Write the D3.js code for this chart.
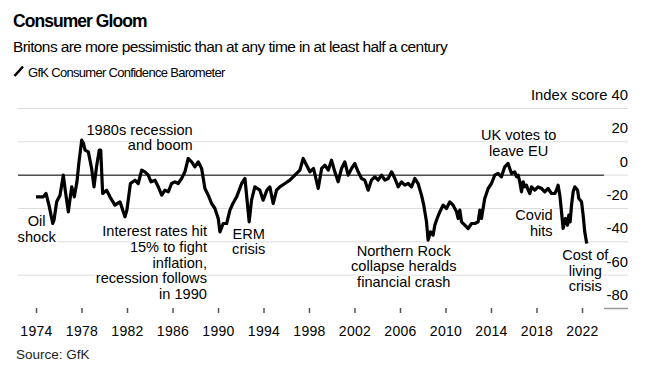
<!DOCTYPE html>
<html>
<head>
<meta charset="utf-8">
<script src="https://cdn.jsdelivr.net/npm/d3@7"></script>
<style>
  body { margin: 0; background: #fff; }
  svg text { font-family: "Liberation Sans", Arial, sans-serif; fill: #000; }
</style>
</head>
<body>
<div id="chart"></div>
<script>
// GfK index (decimal year, index score)
var dates = [1974.00, 1974.35, 1974.64, 1974.88, 1975.14, 1975.47, 1975.58, 1975.82, 1976.11, 1976.40,
  1976.55, 1976.84, 1977.14, 1977.37, 1977.60, 1977.78, 1978.02, 1978.18, 1978.31, 1978.60,
  1978.89, 1979.10, 1979.32, 1979.56, 1979.69, 1979.86, 1980.21, 1980.50, 1980.94, 1981.38,
  1981.82, 1981.99, 1982.30, 1982.70, 1982.99, 1983.29, 1983.58, 1983.87, 1984.11, 1984.46,
  1984.75, 1985.05, 1985.34, 1985.63, 1985.92, 1986.21, 1986.50, 1986.80, 1987.09, 1987.38,
  1987.68, 1987.97, 1988.26, 1988.56, 1988.85, 1989.14, 1989.44, 1989.73, 1990.02, 1990.17,
  1990.46, 1990.76, 1991.05, 1991.31, 1991.64, 1992.08, 1992.37, 1992.74, 1992.95, 1993.24,
  1993.68, 1993.97, 1994.30, 1994.56, 1994.85, 1995.15, 1995.44, 1995.88, 1996.32, 1996.76,
  1997.20, 1997.49, 1997.79, 1998.08, 1998.40, 1998.81, 1999.11, 1999.40, 1999.69, 1999.98,
  2000.27, 2000.56, 2000.86, 2001.15, 2001.44, 2001.74, 2002.03, 2002.32, 2002.62, 2002.91,
  2003.20, 2003.49, 2003.79, 2004.08, 2004.38, 2004.67, 2004.96, 2005.26, 2005.55, 2005.84,
  2006.13, 2006.43, 2006.72, 2007.01, 2007.30, 2007.59, 2007.89, 2008.09, 2008.33, 2008.47,
  2008.68, 2008.91, 2009.06, 2009.26, 2009.50, 2009.79, 2010.09, 2010.38, 2010.67, 2010.97,
  2011.11, 2011.26, 2011.41, 2011.70, 2011.99, 2012.29, 2012.58, 2012.87, 2013.02, 2013.16,
  2013.45, 2013.75, 2014.04, 2014.33, 2014.62, 2014.92, 2015.21, 2015.50, 2015.80, 2016.09,
  2016.24, 2016.39, 2016.53, 2016.68, 2016.83, 2016.97, 2017.12, 2017.27, 2017.41, 2017.56,
  2017.85, 2018.14, 2018.44, 2018.73, 2019.02, 2019.32, 2019.61, 2019.75, 2019.90, 2020.05,
  2020.20, 2020.34, 2020.55, 2020.73, 2020.84, 2020.96, 2021.08, 2021.22, 2021.37, 2021.61,
  2021.72, 2021.96, 2022.10, 2022.24, 2022.39, 2022.45];
var scores = [-13, -13, -13, -11, -18, -29, -27, -16, -12, 0,
  -8, -22, -7, -13, -4, 8, 21, 19, 15, 14,
  4, -7, 5, 15, 15, -11, -9, -13, -18, -16,
  -25, -21, -5, -3, -5, 3, 2, 0, -4, -3,
  -7, -12, -9, -10, -5, -4, -5, -2, 2, 10,
  8, 5, 8, 4, -8, -12, -17, -20, -26, -34,
  -29, -29, -21, -17, -13, -5, -2, -28, -15, -7,
  -9, -15, -9, -7, -17, -9, -7, -5, -3, 0,
  3, 10, 6, 2, 4, -8, 4, 6, 3, 9,
  2, -4, 4, 8, 0, 4, 7, 2, -2, -3,
  -9, -3, -1, -3, 0, -3, -2, 2, -2, -7,
  -4, -6, -5, -7, -2, -5, -12, -18, -28, -39,
  -34, -36, -30, -26, -22, -18, -20, -16, -18, -22,
  -26, -21, -28, -30, -32, -29, -29, -28, -21, -26,
  -14, -8, -5, 0, 1, -1, 5, 7, 1, 2,
  -1, 0, -4, -10, -4, -7, -6, -9, -11, -7,
  -9, -7, -8, -10, -8, -11, -11, -9, -6, -12,
  -22, -32, -26, -30, -24, -28, -18, -10, -7, -9,
  -14, -16, -24, -34, -40, -41];

var yearTicks = [1974, 1978, 1982, 1986, 1990, 1994, 1998, 2002, 2006, 2010, 2014, 2018, 2022];
var scoreTicks = [40, 20, 0, -20, -40, -60, -80];

// annotations: lines of text, anchor point (year, score) and alignment
var notes = [
  { lines: ["1980s recession", "and boom"], year: 1987.78, score: 24.3, anchor: "end" },
  { lines: ["Oil", "shock"], year: 1974.06, score: -30.6, anchor: "middle" },
  { lines: ["Interest rates hit", "15% to fight", "inflation,", "recession follows", "in 1990"], year: 1989.03, score: -36.6, anchor: "end" },
  { lines: ["ERM", "crisis"], year: 1992.7, score: -38.1, anchor: "middle" },
  { lines: ["Northern Rock", "collapse heralds", "financial crash"], year: 2006.33, score: -48.3, anchor: "middle" },
  { lines: ["UK votes to", "leave EU"], year: 2016.43, score: 21.1, anchor: "middle" },
  { lines: ["Covid", "hits"], year: 2019.42, score: -26.9, anchor: "end" },
  { lines: ["Cost of", "living", "crisis"], year: 2022.29, score: -50.9, anchor: "middle" }
];

var width = 656, height = 377;

var svg = d3.select("#chart")
  .append("svg")
    .attr("width", width)
    .attr("height", height);

svg.append("rect")
  .attr("width", width)
  .attr("height", height)
  .attr("fill", "#fff");

// scales
var x = d3.scaleLinear().domain([1974, 2022]).range([36, 582]);
var y = d3.scaleLinear().domain([-80, 40]).range([308.5, 108.5]);

// title block
svg.append("text")
  .attr("x", 13).attr("y", 27)
  .style("font-size", "17.5px").style("font-weight", "bold").style("letter-spacing", "-0.95px")
  .text("Consumer Gloom");
svg.append("text")
  .attr("x", 13).attr("y", 52)
  .style("font-size", "15.5px").style("letter-spacing", "-0.6px")
  .text("Britons are more pessimistic than at any time in at least half a century");

// legend
svg.append("line")
  .attr("x1", 14.5).attr("y1", 76).attr("x2", 23).attr("y2", 66.5)
  .attr("stroke", "#000").attr("stroke-width", 2.6);
svg.append("text")
  .attr("x", 28).attr("y", 77)
  .style("font-size", "13px").style("letter-spacing", "-0.7px")
  .text("GfK Consumer Confidence Barometer");

// gridlines
var grid = svg.append("g");
grid.selectAll("line.grid")
  .data(scoreTicks.filter(function(d) { return d > -80; }))
  .enter()
  .append("line")
    .attr("class", "grid")
    .attr("x1", 18).attr("x2", 628)
    .attr("y1", function(d) { return y(d); })
    .attr("y2", function(d) { return y(d); })
    .attr("stroke", "#dcdcdc").attr("stroke-width", 1);
// the bottom one is only a stub under the labels
grid.append("line")
  .attr("x1", 604).attr("x2", 628)
  .attr("y1", y(-80)).attr("y2", y(-80))
  .attr("stroke", "#999").attr("stroke-width", 1.5);

// y labels sit above their gridline, right-aligned
var yAxis = d3.axisRight(y).tickValues(scoreTicks).tickSize(0)
  .tickFormat(function(d) { return d === 40 ? "Index score 40" : d; });
var yG = svg.append("g")
  .attr("transform", "translate(628,-9)")
  .call(yAxis);
yG.select(".domain").remove();
yG.selectAll("text")
  .attr("x", 0).attr("dy", 0)
  .attr("text-anchor", "end")
  .style("font-size", "14.8px");

// x axis
var xAxis = d3.axisBottom(x).tickValues(yearTicks).tickSize(5).tickPadding(13)
  .tickFormat(d3.format("d"));
var xG = svg.append("g")
  .attr("transform", "translate(0,308)")
  .call(xAxis);
xG.select(".domain").remove();
xG.selectAll(".tick line").attr("stroke", "#555").attr("stroke-width", 1.5);
xG.selectAll("text")
  .style("font-size", "14px").style("letter-spacing", "0.3px");

// annotations with white halo
var noteG = svg.append("g");
notes.forEach(function(n) {
  var t = noteG.append("text")
    .attr("text-anchor", n.anchor)
    .style("font-size", "14.6px")
    .style("paint-order", "stroke")
    .attr("stroke", "#fff").attr("stroke-width", 3).attr("stroke-linejoin", "round");
  n.lines.forEach(function(l, i) {
    t.append("tspan")
      .attr("x", x(n.year))
      .attr("y", y(n.score) + i * 15.7)
      .text(l);
  });
});

// zero line
svg.append("line")
  .attr("x1", 18).attr("x2", 604)
  .attr("y1", y(0)).attr("y2", y(0))
  .attr("stroke", "#000").attr("stroke-width", 1);

// the index line
var data = dates.map(function(d, i) { return { date: d, score: scores[i] }; });
svg.append("path")
  .datum(data)
  .attr("fill", "none")
  .attr("stroke", "#000")
  .attr("stroke-width", 3.2)
  .attr("stroke-linejoin", "round")
  .attr("d", d3.line()
    .x(function(d) { return x(d.date); })
    .y(function(d) { return y(d.score); }));

// source
svg.append("text")
  .attr("x", 16).attr("y", 359)
  .style("font-size", "13.5px")
  .style("fill", "#222")
  .text("Source: GfK");
</script>
</body>
</html>
